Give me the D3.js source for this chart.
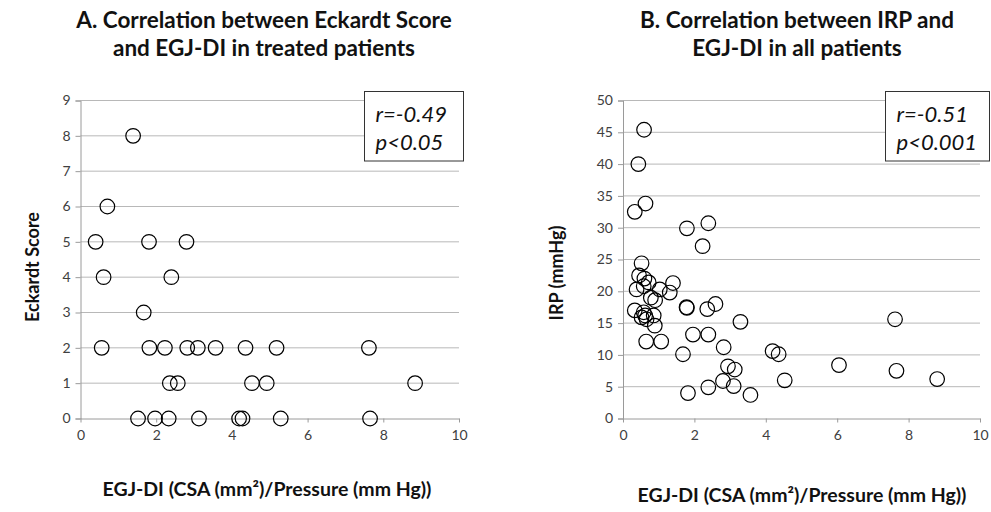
<!DOCTYPE html>
<html><head><meta charset="utf-8">
<script src="https://cdn.jsdelivr.net/npm/d3@7"></script>
<style>
body{margin:0;background:#fff;}
svg{display:block;font-family:Lato,"Open Sans",sans-serif;}
</style></head>
<body><svg id="c" width="991" height="512"></svg>
<script>
// Panel A: Eckardt score vs EGJ-DI
const egjA = [1.39,0.71,0.40,1.81,2.80,0.61,2.40,1.67,0.56,1.82,2.23,2.82,3.10,3.57,4.36,5.18,7.62,2.36,2.57,4.53,4.92,8.84,1.52,1.97,2.33,3.13,4.19,4.28,5.29,7.65];
const eckA = [8,6,5,5,5,4,4,3,2,2,2,2,2,2,2,2,2,1,1,1,1,1,0,0,0,0,0,0,0,0];
// Panel B: IRP vs EGJ-DI
const egjB = [0.52,0.45,0.60,0.72,0.58,0.38,1.03,1.40,1.31,0.78,0.90,0.33,0.58,0.62,0.86,0.52,0.66,0.89,0.65,1.07,
  0.59,0.43,0.33,0.63,1.79,2.39,2.23,1.78,1.79,2.36,2.59,3.29,1.96,2.39,1.68,2.82,2.94,3.13,2.80,3.10,2.39,1.82,3.57,4.19,4.36,4.53,6.05,7.62,7.66,8.80];
const irpB = [24.4,22.5,22.0,21.4,20.8,20.3,20.3,21.3,19.8,19.0,18.6,17.0,16.7,16.2,16.2,15.9,15.6,14.6,12.1,12.1,
  45.4,40.0,32.5,33.8,29.9,30.7,27.1,17.5,17.4,17.2,18.0,15.2,13.2,13.2,10.1,11.2,8.2,7.7,5.9,5.1,4.9,4.0,3.7,10.6,10.1,6.0,8.4,15.6,7.5,6.2];

const titlesA = ["A. Correlation between Eckardt Score","and EGJ-DI in treated patients"];
const titlesB = ["B. Correlation between IRP and","EGJ-DI in all patients"];
const statsA = ["r=-0.49","p<0.05"];
const statsB = ["r=-0.51","p<0.001"];
const xTicks = [0,2,4,6,8,10];
const yTicksA = [0,1,2,3,4,5,6,7,8,9];
const yTicksB = [0,5,10,15,20,25,30,35,40,45,50];
const xTitle = "EGJ-DI (CSA (mm²)/Pressure (mm Hg))";
const yTitleA = "Eckardt Score";
const yTitleB = "IRP (mmHg)";

const svg = d3.select("#c");

function panel(o){
  const g = svg.append("g");
  const x = d3.scaleLinear().domain([0,10]).range([o.x0,o.x1]);
  const y = d3.scaleLinear().domain([0,o.ymax]).range([418.5,100.5]);
  g.selectAll(".grid").data(o.yTicks.filter(d=>d>0)).join("line")
    .attr("x1",o.x0).attr("x2",o.x1).attr("y1",d=>y(d)).attr("y2",d=>y(d))
    .attr("stroke","#b8b8b8").attr("stroke-width",1);
  const ya = g.append("g").attr("transform",`translate(${o.x0},0)`)
    .call(d3.axisLeft(y).tickValues(o.yTicks).tickSize(5).tickPadding(5));
  const xa = g.append("g").attr("transform",`translate(0,${y(0)})`)
    .call(d3.axisBottom(x).tickValues(xTicks).tickSize(4).tickPadding(6).tickSizeOuter(0));
  [ya,xa].forEach(a=>{
    a.select(".domain").attr("stroke","#9a9a9a");
    a.selectAll(".tick line").attr("stroke","#9a9a9a");
    a.selectAll(".tick text").attr("fill","#404040").attr("font-size",14).attr("font-family","Lato,'Open Sans',sans-serif");
  });
  xa.selectAll(".tick text").attr("dy","0.85em");
  g.selectAll("circle").data(o.xs.map((v,i)=>[v,o.ys[i]])).join("circle")
    .attr("cx",d=>x(d[0])).attr("cy",d=>y(d[1])).attr("r",7.3)
    .attr("fill","none").attr("stroke","#000").attr("stroke-width",1.2);
  g.append("text").attr("x",o.tcx).attr("y",28).attr("text-anchor","middle")
    .attr("font-size",22.5).attr("font-weight","bold").attr("fill","#111")
    .selectAll("tspan").data(o.titles).join("tspan")
    .attr("x",o.tcx).attr("dy",(d,i)=>i?28:0).text(d=>d);
  g.append("rect").attr("x",o.bx).attr("y",91.5).attr("width",o.bw).attr("height",69.5)
    .attr("fill","#fff").attr("stroke","#333").attr("stroke-width",1);
  g.append("text").attr("font-size",22).attr("font-style","italic").attr("fill","#111")
    .selectAll("tspan").data(o.stats).join("tspan")
    .attr("x",o.bx+11).attr("y",(d,i)=>122+i*28).text(d=>d);
  g.append("text").attr("x",o.xtx).attr("y",o.xty).attr("text-anchor","middle")
    .attr("font-size",19.5).attr("font-weight","bold").attr("fill","#111").text(xTitle);
  g.append("text").attr("transform",`translate(${o.ytx},${o.yty}) rotate(-90)`).attr("text-anchor","middle")
    .attr("font-size",18).attr("font-weight","bold").attr("fill","#111").text(o.yTitle);
}

panel({x0:80.5,x1:459,ymax:9,yTicks:yTicksA,xs:egjA,ys:eckA,titles:titlesA,tcx:264,
  stats:statsA,bx:364.5,bw:99,xtx:267,xty:496,ytx:39,yty:267,yTitle:yTitleA});
panel({x0:623,x1:980,ymax:50,yTicks:yTicksB,xs:egjB,ys:irpB,titles:titlesB,tcx:797,
  stats:statsB,bx:885.5,bw:104,xtx:802,xty:502,ytx:563,yty:273,yTitle:yTitleB});
</script></body></html>
